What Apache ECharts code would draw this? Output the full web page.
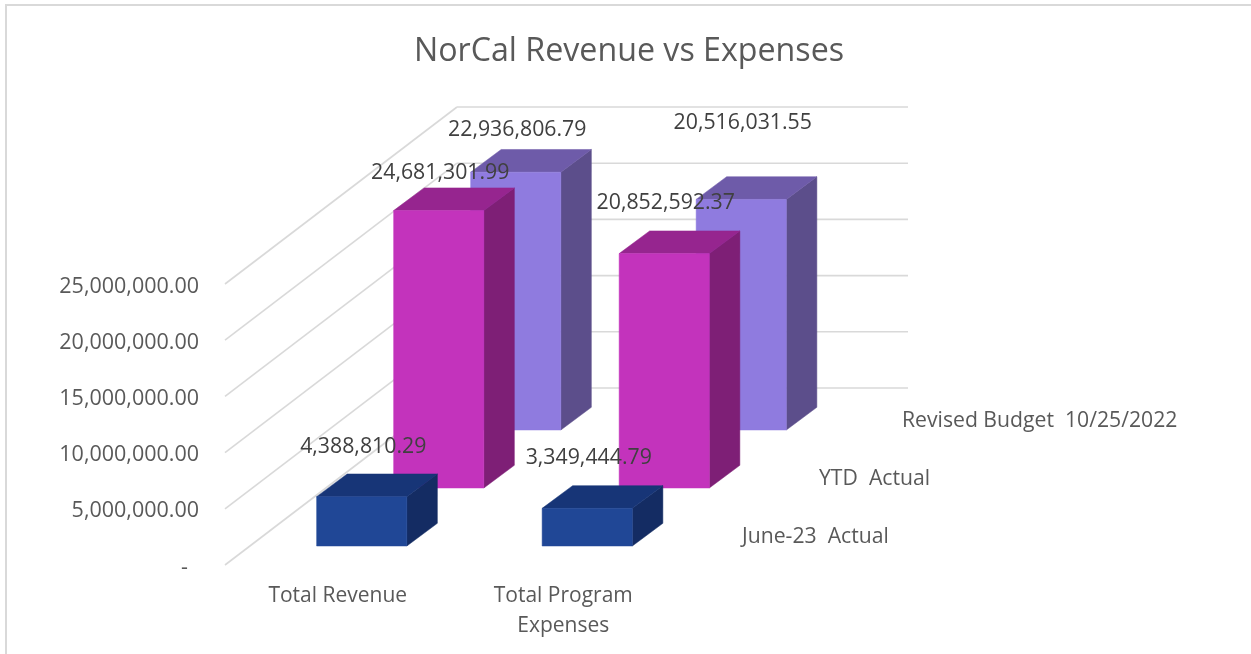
<!DOCTYPE html>
<html>
<head>
<meta charset="utf-8">
<title>NorCal Revenue vs Expenses</title>
<script src="https://cdn.jsdelivr.net/npm/echarts@6/dist/echarts.min.js"></script>
<style>
  html, body { margin: 0; padding: 0; background: #fff; }
  #chart { width: 1251px; height: 654px; }
</style>
</head>
<body>
<div id="chart"></div>
<script>
var categories = ["Total Revenue", "Total Program\nExpenses"];
var rowNames = ["June-23  Actual", "YTD  Actual", "Revised Budget  10/25/2022"];
var juneActual = [4388810.29, 3349444.79];
var ytdActual = [24681301.99, 20852592.37];
var revisedBudget = [22936806.79, 20516031.55];
var tickValues = [0, 5000000, 10000000, 15000000, 20000000, 25000000];

// fake 3d projection, every row is pushed back by the same pixel step
var ROW_DX = 77, ROW_DY = 58;
var START_DX = 24, START_DY = 19;
var BOX_DX = 30.5, BOX_DY = 22.7;
var WALL_DX = 232, WALL_DY = 177;
var BAR_SHARE = 0.4;
var TEXT_FONT = '"Open Sans", sans-serif';

// excel places the labels on its own, so these are just
var labelLift = [[50, 50], [38, 51], [42, 76]];
var rowLabelNudge = [0, 0, 6];

var rowColors = [
  { face: "#204796", top: "#173577", side: "#142c63" },
  { face: "#c333bc", top: "#96258f", side: "#7e1f76" },
  { face: "#8f7bdf", top: "#6e5ba9", side: "#5c4e8b" }
];

var fmt = function (v) {
  return v.toLocaleString("en-US", { minimumFractionDigits: 2, maximumFractionDigits: 2 });
};

function poly(points, color) {
  return {
    type: "polygon",
    shape: { points: points },
    style: { fill: color, stroke: color, lineWidth: 0.5 }
  };
}

function renderBox(row) {
  return function (params, api) {
    var idx = api.value(0);
    var val = api.value(1);
    var base = api.coord([idx, 0]);
    var top = api.coord([idx, val]);
    var w = api.size([1, 0])[0] * BAR_SHARE;
    var x0 = base[0] - w / 2 + START_DX + ROW_DX * row;
    var x1 = x0 + w;
    var yb = base[1] - START_DY - ROW_DY * row;
    var yt = top[1] - START_DY - ROW_DY * row;
    var c = rowColors[row];
    return {
      type: "group",
      children: [
        poly([[x1, yb], [x1 + BOX_DX, yb - BOX_DY], [x1 + BOX_DX, yt - BOX_DY], [x1, yt]], c.side),
        poly([[x0, yt], [x1, yt], [x1 + BOX_DX, yt - BOX_DY], [x0 + BOX_DX, yt - BOX_DY]], c.top),
        poly([[x0, yb], [x1, yb], [x1, yt], [x0, yt]], c.face),
        {
          type: "text",
          z2: 100,
          style: {
            x: (x0 + x1) / 2 + 1.5,
            y: yt - labelLift[row][idx],
            text: fmt(val),
            fill: "#404040",
            font: "21.3px " + TEXT_FONT,
            align: "center",
            verticalAlign: "middle"
          }
        }
      ]
    };
  };
}

// left wall and back wall lines, one pair per tick
function renderWall(params, api) {
  var sys = params.coordSys;
  var y = api.coord([0, api.value(0)])[1];
  var lineStyle = { stroke: "#d9d9d9", lineWidth: 1.6 };
  return {
    type: "group",
    children: [
      { type: "line", shape: { x1: sys.x, y1: y, x2: sys.x + WALL_DX, y2: y - WALL_DY }, style: lineStyle },
      { type: "line", shape: { x1: sys.x + WALL_DX, y1: y - WALL_DY, x2: sys.x + WALL_DX + sys.width, y2: y - WALL_DY }, style: lineStyle }
    ]
  };
}

function renderRowLabel(params, api) {
  var sys = params.coordSys;
  var row = params.dataIndex;
  var y0 = api.coord([0, 0])[1];
  return {
    type: "text",
    style: {
      x: sys.x + sys.width + START_DX + ROW_DX * row + 42 + rowLabelNudge[row],
      y: y0 - START_DY - ROW_DY * row - 9.5,
      text: rowNames[row],
      fill: "#595959",
      font: "21.2px " + TEXT_FONT,
      align: "left",
      verticalAlign: "middle"
    }
  };
}

function boxData(values) {
  return values.map(function (v, i) { return [i, v]; });
}

var chart = echarts.init(document.getElementById("chart"));
chart.setOption({
  animation: false,
  backgroundColor: "#fff",
  title: {
    text: "NorCal Revenue vs Expenses",
    left: 624,
    top: 31,
    textAlign: "center",
    textStyle: { color: "#595959", fontFamily: TEXT_FONT, fontSize: 32.2, fontWeight: "normal" }
  },
  graphic: [
    {
      type: "polyline",
      shape: { points: [[6, 660], [6, 5], [1260, 5]] },
      style: { fill: null, stroke: "#d9d9d9", lineWidth: 2 },
      silent: true
    }
  ],
  grid: { left: 225, right: 575, top: 284, bottom: 89 },
  xAxis: {
    type: "category",
    data: categories,
    axisLine: { show: false },
    axisTick: { show: false },
    axisLabel: {
      color: "#595959",
      fontFamily: TEXT_FONT,
      fontSize: 21,
      lineHeight: 30,
      margin: 16,
      interval: 0
    }
  },
  yAxis: {
    type: "value",
    min: 0,
    max: 25000000,
    interval: 5000000,
    axisLine: { show: false },
    axisTick: { show: false },
    splitLine: { show: false },
    axisLabel: {
      margin: 26,
      // rich box with top padding, plain padding does not move the text down
      rich: {
        t: {
          color: "#595959",
          fontFamily: TEXT_FONT,
          fontSize: 21.5,
          padding: [5, 0, 0, 0]
        }
      },
      formatter: function (v) { return "{t|" + (v === 0 ? "-  " : fmt(v)) + "}"; }
    }
  },
  series: [
    { type: "custom", name: "wall", data: tickValues.map(function (v) { return [v]; }), encode: { y: 0 }, renderItem: renderWall, silent: true, clip: false },
    { type: "custom", name: rowNames[2], data: boxData(revisedBudget), encode: { x: 0, y: 1 }, renderItem: renderBox(2), silent: true, clip: false },
    { type: "custom", name: rowNames[1], data: boxData(ytdActual), encode: { x: 0, y: 1 }, renderItem: renderBox(1), silent: true, clip: false },
    { type: "custom", name: rowNames[0], data: boxData(juneActual), encode: { x: 0, y: 1 }, renderItem: renderBox(0), silent: true, clip: false },
    { type: "custom", name: "rows", data: rowNames.map(function (n, i) { return [i]; }), renderItem: renderRowLabel, silent: true, clip: false }
  ]
});
</script>
</body>
</html>
